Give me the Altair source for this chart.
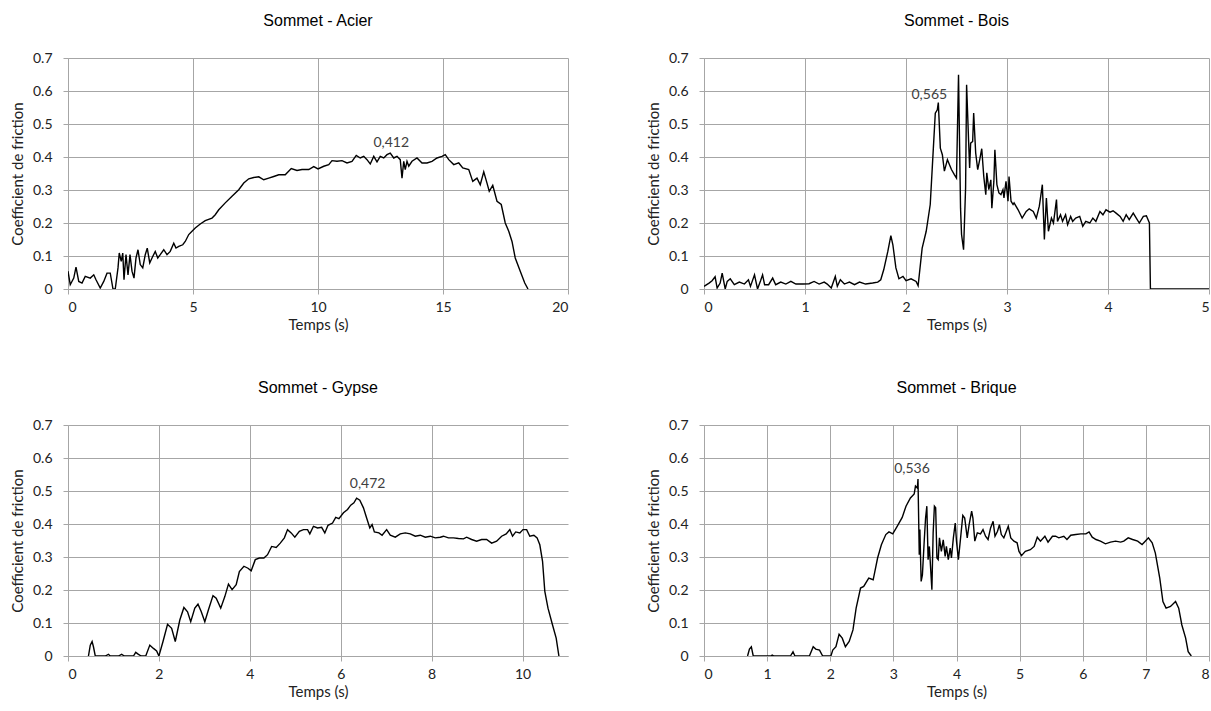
import altair as alt
import pandas as pd

# ---------------- data ----------------
acier_t = [0, 0.09, 0.23, 0.32, 0.43, 0.56, 0.69, 0.89, 1.03, 1.12, 1.29, 1.43, 1.56, 1.69, 1.8, 1.89,
           2.0, 2.05, 2.13, 2.19, 2.24, 2.32, 2.4, 2.48, 2.56, 2.64, 2.72, 2.8, 2.89, 2.99, 3.09, 3.17,
           3.27, 3.36, 3.49, 3.59, 3.69, 3.83, 3.96, 4.09, 4.23, 4.32, 4.43, 4.59, 4.69, 4.83, 4.96,
           5.09, 5.29, 5.49, 5.76, 5.89, 6.03, 6.29, 6.56, 6.83, 7.03, 7.23, 7.43, 7.63, 7.83, 8.03,
           8.23, 8.43, 8.69, 8.93, 9.16, 9.36, 9.63, 9.83, 10.0, 10.23, 10.43, 10.56, 10.76, 10.96,
           11.16, 11.36, 11.53, 11.69, 11.83, 11.96, 12.09, 12.23, 12.36, 12.49, 12.63, 12.76, 12.89,
           13.03, 13.16, 13.29, 13.36, 13.43, 13.49, 13.56, 13.63, 13.76, 13.96, 14.16, 14.36, 14.56,
           14.76, 14.96, 15.09, 15.23, 15.43, 15.63, 15.79, 16.03, 16.19, 16.36, 16.49, 16.63, 16.76,
           16.85, 16.99, 17.16, 17.33, 17.49, 17.63, 17.76, 17.89, 18.09, 18.27, 18.4]
acier_v = [0.054, 0.013, 0.033, 0.066, 0.023, 0.018, 0.038, 0.033, 0.043, 0.028, 0.003, 0.023, 0.048,
           0.048, 0.0, 0.0, 0.064, 0.109, 0.084, 0.109, 0.028, 0.104, 0.043, 0.104, 0.054, 0.033, 0.094,
           0.119, 0.074, 0.064, 0.104, 0.124, 0.079, 0.094, 0.114, 0.094, 0.104, 0.119, 0.104, 0.114,
           0.139, 0.124, 0.129, 0.134, 0.144, 0.165, 0.175, 0.185, 0.197, 0.207, 0.215, 0.225, 0.240,
           0.261, 0.281, 0.301, 0.321, 0.334, 0.338, 0.340, 0.331, 0.336, 0.341, 0.346, 0.346, 0.365,
           0.359, 0.362, 0.362, 0.371, 0.364, 0.372, 0.377, 0.389, 0.387, 0.389, 0.382, 0.387, 0.405,
           0.397, 0.402, 0.392, 0.379, 0.402, 0.385, 0.402, 0.397, 0.407, 0.412, 0.397, 0.402, 0.392,
           0.336, 0.387, 0.362, 0.387, 0.372, 0.387, 0.397, 0.382, 0.382, 0.387, 0.397, 0.402, 0.407,
           0.392, 0.377, 0.382, 0.367, 0.362, 0.326, 0.336, 0.316, 0.355, 0.321, 0.296, 0.314, 0.266,
           0.256, 0.200, 0.175, 0.144, 0.094, 0.054, 0.018, 0.0]

bois_t = [0, 0.05, 0.08, 0.11, 0.13, 0.16, 0.18, 0.21, 0.23, 0.26, 0.30, 0.35, 0.40, 0.44, 0.46, 0.50,
          0.53, 0.56, 0.58, 0.60, 0.64, 0.68, 0.71, 0.76, 0.81, 0.86, 0.91, 0.98, 1.04, 1.09, 1.14, 1.19,
          1.22, 1.26, 1.30, 1.32, 1.35, 1.39, 1.44, 1.49, 1.54, 1.60, 1.67, 1.72, 1.75, 1.78, 1.82, 1.85,
          1.87, 1.90, 1.93, 1.97, 2.0, 2.05, 2.10, 2.12, 2.16, 2.20, 2.24, 2.26, 2.29, 2.31, 2.32, 2.34,
          2.36, 2.38, 2.41, 2.45, 2.48, 2.50, 2.52, 2.54, 2.55, 2.57, 2.59, 2.60, 2.62, 2.63, 2.64, 2.66,
          2.67, 2.69, 2.71, 2.73, 2.75, 2.77, 2.79, 2.80, 2.82, 2.84, 2.85, 2.87, 2.88, 2.90, 2.92, 2.94,
          2.96, 2.97, 2.99, 3.01, 3.02, 3.04, 3.06, 3.07, 3.11, 3.15, 3.19, 3.22, 3.26, 3.29, 3.32, 3.35,
          3.37, 3.39, 3.41, 3.44, 3.46, 3.49, 3.50, 3.53, 3.55, 3.58, 3.60, 3.63, 3.65, 3.68, 3.72, 3.75,
          3.78, 3.82, 3.85, 3.88, 3.92, 3.95, 3.98, 4.02, 4.05, 4.08, 4.12, 4.15, 4.18, 4.21, 4.25, 4.28,
          4.31, 4.35, 4.38, 4.41, 4.42, 5.0]
bois_v = [0.008, 0.018, 0.025, 0.037, 0.003, 0.018, 0.048, 0.0, 0.023, 0.031, 0.013, 0.021, 0.015, 0.028,
          0.008, 0.043, 0.0, 0.025, 0.043, 0.013, 0.013, 0.033, 0.013, 0.021, 0.015, 0.023, 0.015, 0.015,
          0.016, 0.023, 0.015, 0.021, 0.015, 0.003, 0.038, 0.008, 0.028, 0.015, 0.021, 0.013, 0.021, 0.015,
          0.018, 0.021, 0.028, 0.059, 0.114, 0.162, 0.134, 0.064, 0.031, 0.038, 0.025, 0.031, 0.023, 0.010,
          0.124, 0.175, 0.256, 0.367, 0.533, 0.543, 0.565, 0.427, 0.407, 0.357, 0.392, 0.362, 0.346, 0.336,
          0.649, 0.245, 0.165, 0.119, 0.306, 0.619, 0.447, 0.367, 0.442, 0.447, 0.533, 0.412, 0.362, 0.392,
          0.425, 0.341, 0.286, 0.352, 0.301, 0.331, 0.245, 0.326, 0.422, 0.316, 0.291, 0.286, 0.301, 0.276,
          0.326, 0.266, 0.341, 0.266, 0.256, 0.261, 0.240, 0.215, 0.235, 0.243, 0.235, 0.215, 0.251, 0.316,
          0.150, 0.276, 0.175, 0.215, 0.200, 0.271, 0.205, 0.225, 0.205, 0.225, 0.195, 0.220, 0.205, 0.215,
          0.220, 0.190, 0.205, 0.200, 0.215, 0.205, 0.235, 0.225, 0.240, 0.233, 0.237, 0.230, 0.220, 0.205,
          0.225, 0.210, 0.230, 0.215, 0.200, 0.220, 0.222, 0.200, 0.0, 0.0]

gypse_t = [0.45, 0.49, 0.53, 0.56, 0.60, 0.82, 0.89, 0.93, 1.11, 1.18, 1.24, 1.44, 1.49, 1.55, 1.61, 1.71,
           1.80, 1.88, 1.95, 2.0, 2.09, 2.19, 2.28, 2.36, 2.46, 2.55, 2.63, 2.70, 2.79, 2.86, 2.93, 3.01,
           3.09, 3.19, 3.26, 3.36, 3.45, 3.53, 3.61, 3.70, 3.77, 3.87, 3.96, 4.03, 4.12, 4.21, 4.31, 4.39,
           4.48, 4.58, 4.67, 4.76, 4.83, 4.91, 4.99, 5.09, 5.18, 5.27, 5.32, 5.40, 5.49, 5.58, 5.65, 5.72,
           5.82, 5.89, 5.96, 6.06, 6.15, 6.22, 6.29, 6.35, 6.42, 6.50, 6.57, 6.64, 6.69, 6.74, 6.84, 6.91,
           7.01, 7.09, 7.20, 7.31, 7.42, 7.53, 7.64, 7.75, 7.86, 7.97, 8.08, 8.19, 8.26, 8.37, 8.48, 8.59,
           8.70, 8.77, 8.88, 8.99, 9.10, 9.21, 9.32, 9.43, 9.54, 9.64, 9.72, 9.78, 9.85, 9.94, 10.01, 10.09,
           10.16, 10.25, 10.32, 10.38, 10.44, 10.49, 10.56, 10.66, 10.74, 10.80]
gypse_v = [0.0, 0.033, 0.044, 0.028, 0.0, 0.0, 0.005, 0.0, 0.0, 0.005, 0.0, 0.0, 0.011, 0.005, 0.0, 0.0,
           0.033, 0.023, 0.015, 0.0, 0.044, 0.096, 0.084, 0.044, 0.109, 0.147, 0.134, 0.104, 0.145, 0.157,
           0.135, 0.104, 0.140, 0.183, 0.175, 0.145, 0.180, 0.218, 0.201, 0.216, 0.256, 0.272, 0.266, 0.258,
           0.292, 0.297, 0.297, 0.307, 0.332, 0.329, 0.342, 0.358, 0.383, 0.373, 0.360, 0.378, 0.383, 0.383,
           0.370, 0.393, 0.388, 0.390, 0.373, 0.396, 0.403, 0.420, 0.416, 0.434, 0.444, 0.457, 0.464, 0.478,
           0.472, 0.449, 0.418, 0.388, 0.398, 0.376, 0.373, 0.366, 0.383, 0.366, 0.360, 0.370, 0.373, 0.370,
           0.363, 0.366, 0.360, 0.363, 0.358, 0.360, 0.363, 0.358, 0.358, 0.356, 0.355, 0.360, 0.353, 0.348,
           0.353, 0.353, 0.342, 0.348, 0.363, 0.370, 0.383, 0.363, 0.376, 0.373, 0.383, 0.383, 0.363, 0.366,
           0.358, 0.337, 0.287, 0.196, 0.145, 0.094, 0.054, 0.0]

brique_t = [0.69, 0.72, 0.75, 0.78, 1.06, 1.08, 1.11, 1.37, 1.41, 1.44, 1.67, 1.73, 1.77, 1.83, 1.88, 2.01,
            2.04, 2.09, 2.14, 2.19, 2.24, 2.30, 2.36, 2.41, 2.48, 2.53, 2.61, 2.68, 2.75, 2.81, 2.88, 2.93,
            2.99, 3.06, 3.14, 3.20, 3.27, 3.33, 3.35, 3.38, 3.39, 3.41, 3.42, 3.44, 3.46, 3.49, 3.51, 3.53,
            3.55, 3.57, 3.61, 3.63, 3.65, 3.67, 3.69, 3.71, 3.73, 3.76, 3.79, 3.82, 3.84, 3.87, 3.90, 3.92,
            3.95, 3.98, 4.00, 4.03, 4.07, 4.10, 4.13, 4.17, 4.20, 4.24, 4.26, 4.29, 4.33, 4.38, 4.42, 4.46,
            4.50, 4.54, 4.58, 4.61, 4.65, 4.68, 4.71, 4.75, 4.79, 4.82, 4.86, 4.91, 4.96, 4.99, 5.03, 5.09,
            5.17, 5.23, 5.28, 5.33, 5.40, 5.45, 5.52, 5.57, 5.62, 5.70, 5.75, 5.81, 5.89, 5.97, 6.05, 6.10,
            6.15, 6.21, 6.28, 6.36, 6.44, 6.52, 6.60, 6.65, 6.72, 6.79, 6.87, 6.94, 6.99, 7.04, 7.10, 7.15,
            7.22, 7.27, 7.32, 7.39, 7.47, 7.52, 7.57, 7.63, 7.67, 7.72]
brique_v = [0.0, 0.021, 0.028, 0.0, 0.0, 0.003, 0.0, 0.0, 0.013, 0.0, 0.0, 0.028, 0.021, 0.018, 0.0, 0.0,
            0.018, 0.028, 0.066, 0.054, 0.028, 0.044, 0.079, 0.145, 0.206, 0.211, 0.236, 0.231, 0.297,
            0.337, 0.368, 0.376, 0.370, 0.393, 0.420, 0.454, 0.479, 0.491, 0.515, 0.509, 0.536, 0.307,
            0.383, 0.226, 0.246, 0.353, 0.418, 0.454, 0.292, 0.332, 0.201, 0.373, 0.454, 0.449, 0.297,
            0.292, 0.358, 0.317, 0.352, 0.302, 0.332, 0.292, 0.327, 0.297, 0.357, 0.403, 0.348, 0.292,
            0.368, 0.426, 0.418, 0.358, 0.398, 0.439, 0.418, 0.348, 0.373, 0.370, 0.383, 0.363, 0.353,
            0.388, 0.408, 0.363, 0.378, 0.398, 0.368, 0.358, 0.378, 0.393, 0.358, 0.348, 0.343, 0.317,
            0.304, 0.317, 0.322, 0.332, 0.360, 0.348, 0.363, 0.345, 0.363, 0.363, 0.358, 0.363, 0.353,
            0.366, 0.368, 0.370, 0.370, 0.376, 0.360, 0.353, 0.348, 0.340, 0.345, 0.348, 0.345, 0.348,
            0.358, 0.353, 0.348, 0.338, 0.348, 0.358, 0.343, 0.312, 0.236, 0.165, 0.145, 0.150, 0.165,
            0.145, 0.094, 0.054, 0.013, 0.0]

titles = ["Sommet - Acier", "Sommet - Bois", "Sommet - Gypse", "Sommet - Brique"]
x_max = [20, 5, 11, 8]
x_ticks = [[0, 5, 10, 15, 20], [0, 1, 2, 3, 4, 5], [0, 2, 4, 6, 8, 10], [0, 1, 2, 3, 4, 5, 6, 7, 8]]
peak_labels = ["0,412", "0,565", "0,472", "0,536"]
peak_t = [12.89, 2.32, 6.35, 3.39]
y_ticks = [0, 0.1, 0.2, 0.3, 0.4, 0.5, 0.6, 0.7]

series = [(acier_t, acier_v), (bois_t, bois_v), (gypse_t, gypse_v), (brique_t, brique_v)]
label_offsets = [(1, -10), (-9, -8), (11, -14), (-6, -10)]
widths = [500, 505, 500, 505]

GRID = "#a6a6a6"
FONT = "Lato"


def panel(i):
    t, v = series[i]
    labels = [peak_labels[i] if tt == peak_t[i] else "" for tt in t]
    df = pd.DataFrame({"t": t, "v": v, "label": labels})
    base = alt.Chart(df).encode(
        x=alt.X("t:Q", scale=alt.Scale(domain=[0, x_max[i]], nice=False, zero=True),
                axis=alt.Axis(values=x_ticks[i], title="Temps (s)", format="d")),
        y=alt.Y("v:Q", scale=alt.Scale(domain=[0, 0.7], nice=False),
                axis=alt.Axis(values=y_ticks, title="Coefficient de friction", format=".1~f",
                              labelOverlap=False)),
    )
    line = base.mark_line(color="black", strokeWidth=1.4, clip=True)
    dx, dy = label_offsets[i]
    ann = base.mark_text(font=FONT, fontSize=14, color="#404040", dx=dx, dy=dy,
                         baseline="middle", align="center").encode(text="label:N").transform_filter(
        "datum.label != ''")
    return alt.layer(line, ann).properties(
        width=widths[i], height=231,
        title=alt.TitleParams(titles[i], font="Liberation Sans", fontSize=16, fontWeight=400,
                              color="black", offset=22, anchor="middle"))


chart = alt.concat(*[panel(i) for i in range(4)], columns=2, spacing=136, bounds="flush").properties(
    padding={"left": 10, "top": 13, "right": 0, "bottom": 5}
).configure_view(strokeWidth=0).configure_title(fontWeight=400).configure_axis(
    grid=True, gridColor=GRID, gridWidth=1, domainColor=GRID, tickColor=GRID, tickSize=5,
    labelFont=FONT, labelFontSize=14, labelColor="#222222", titleFont=FONT, titleFontSize=15,
    titleFontWeight="normal", titleColor="#222222"
).configure_axisX(labelPadding=6, titlePadding=3).configure_axisY(labelPadding=11, titlePadding=7)

chart.save("out.html", embed_options={"renderer": "svg", "actions": False})
